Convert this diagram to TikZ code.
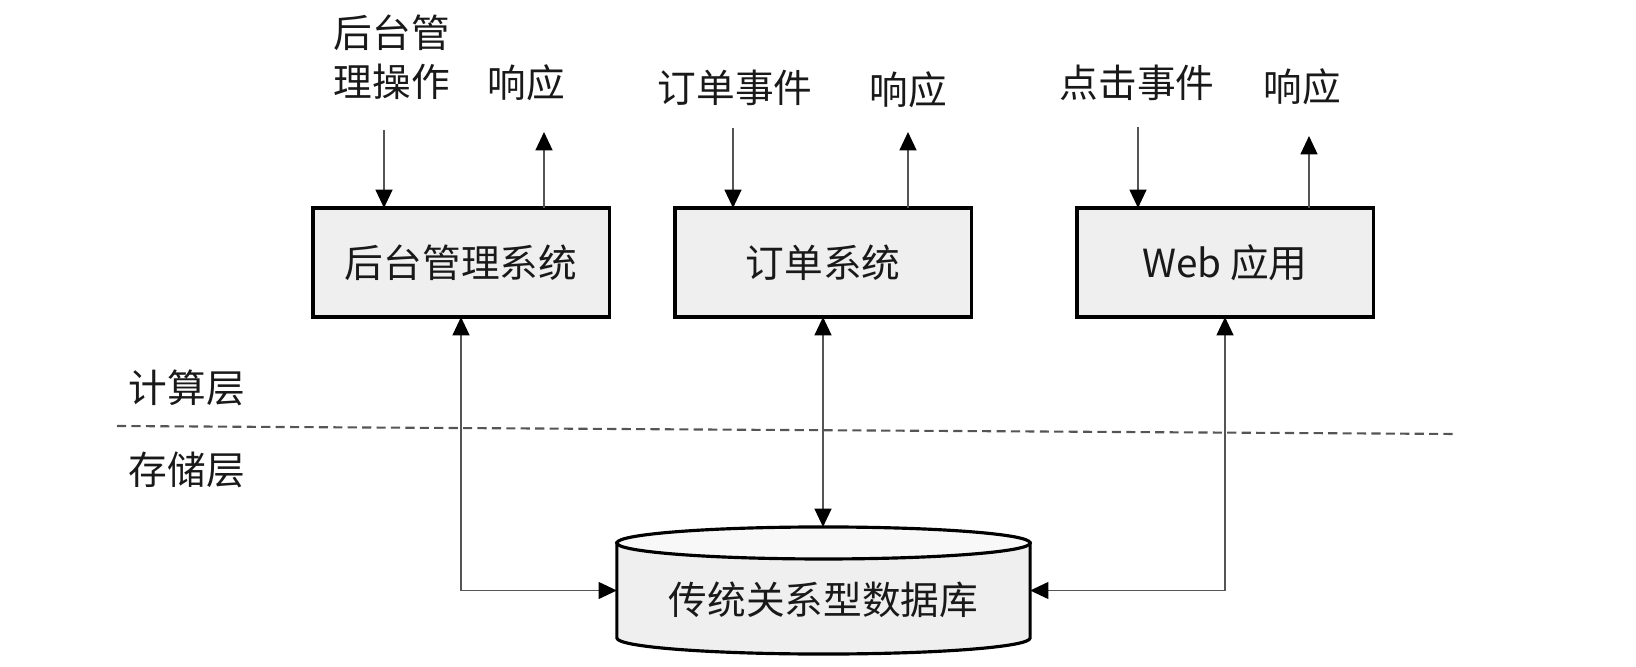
\documentclass[tikz,border=0pt]{standalone}
\usepackage{fontspec}
\setmainfont{Noto Sans CJK SC}
\usetikzlibrary{arrows.meta,calc}
\definecolor{boxgray}{RGB}{239,239,239}
\definecolor{topgray}{RGB}{248,248,248}
\definecolor{linkgray}{RGB}{85,85,85}

\begin{document}
\begin{tikzpicture}[x=0.01cm, y=-0.01cm, >={Triangle[length=5.2pt,width=4.8pt,color=black]},
    every node/.style={font=\fontsize{11pt}{14pt}\selectfont, text=black!90},
    sysbox/.style={draw=black, line width=0.9pt, fill=boxgray, minimum width=2.96cm, minimum height=1.09cm, outer sep=0pt},
    link/.style={draw=linkgray, line width=0.45pt},
    dbline/.style={draw=black, line width=0.9pt}]
    \useasboundingbox (0,0) rectangle (1636,667);
    % systems
    \node[sysbox] (sys1) at (461,262.5) {后台管理系统};
    \node[sysbox] (sys2) at (823,262.5) {订单系统};
    \node[sysbox] (sys3) at (1225,262.5) {Web 应用};
    % requests and responses
    \node[align=center] (req1) at (392,57) {后台管\\理操作};
    \node (resp1) at (526,83) {响应};
    \node (req2) at (735,88) {订单事件};
    \node (resp2) at (908,90) {响应};
    \node (req3) at (1137,83) {点击事件};
    \node (resp3) at (1302,87) {响应};
    \coordinate (in1) at (384,130);
    \coordinate (out1) at (544,132);
    \coordinate (in2) at (733,128);
    \coordinate (out2) at (908,132);
    \coordinate (in3) at (1138,127);
    \coordinate (out3) at (1309,136);
    \draw[link,->] (in1) -- (in1 |- sys1.north);
    \draw[link,->] (out1 |- sys1.north) -- (out1);
    \draw[link,->] (in2) -- (in2 |- sys2.north);
    \draw[link,->] (out2 |- sys2.north) -- (out2);
    \draw[link,->] (in3) -- (in3 |- sys3.north);
    \draw[link,->] (out3 |- sys3.north) -- (out3);
    % layers
    \node (lyrcomp) at (187,388) {计算层};
    \node (lyrstore) at (187,470) {存储层};
    \draw[linkgray, line width=0.6pt, dash pattern=on 2.6pt off 1.5pt] (117,426) -- (1457,434);
    % database
    \node[minimum width=4.13cm, minimum height=0.95cm, inner sep=0pt, outer sep=0pt] (db) at (823.5,590.5) {};
    \draw[dbline, fill=boxgray] (db.north west) -- (db.south west)
      arc[start angle=180, end angle=360, x radius=2.065cm, y radius=0.16cm] -- (db.north east) -- cycle;
    \draw[dbline, fill=topgray] (db.north) ellipse [x radius=2.065cm, y radius=0.16cm];
    \node (dbtext) at ($(db.center)+(0,9)$) {传统关系型数据库};
    \coordinate (dbtop) at ($(db.north)+(0,-16)$);
    \draw[link,<->] (sys1.south) |- (db.west);
    \draw[link,<->] (sys2.south) -- (sys2.south |- dbtop);
    \draw[link,<->] (sys3.south) |- (db.east);
\end{tikzpicture}
\end{document}
